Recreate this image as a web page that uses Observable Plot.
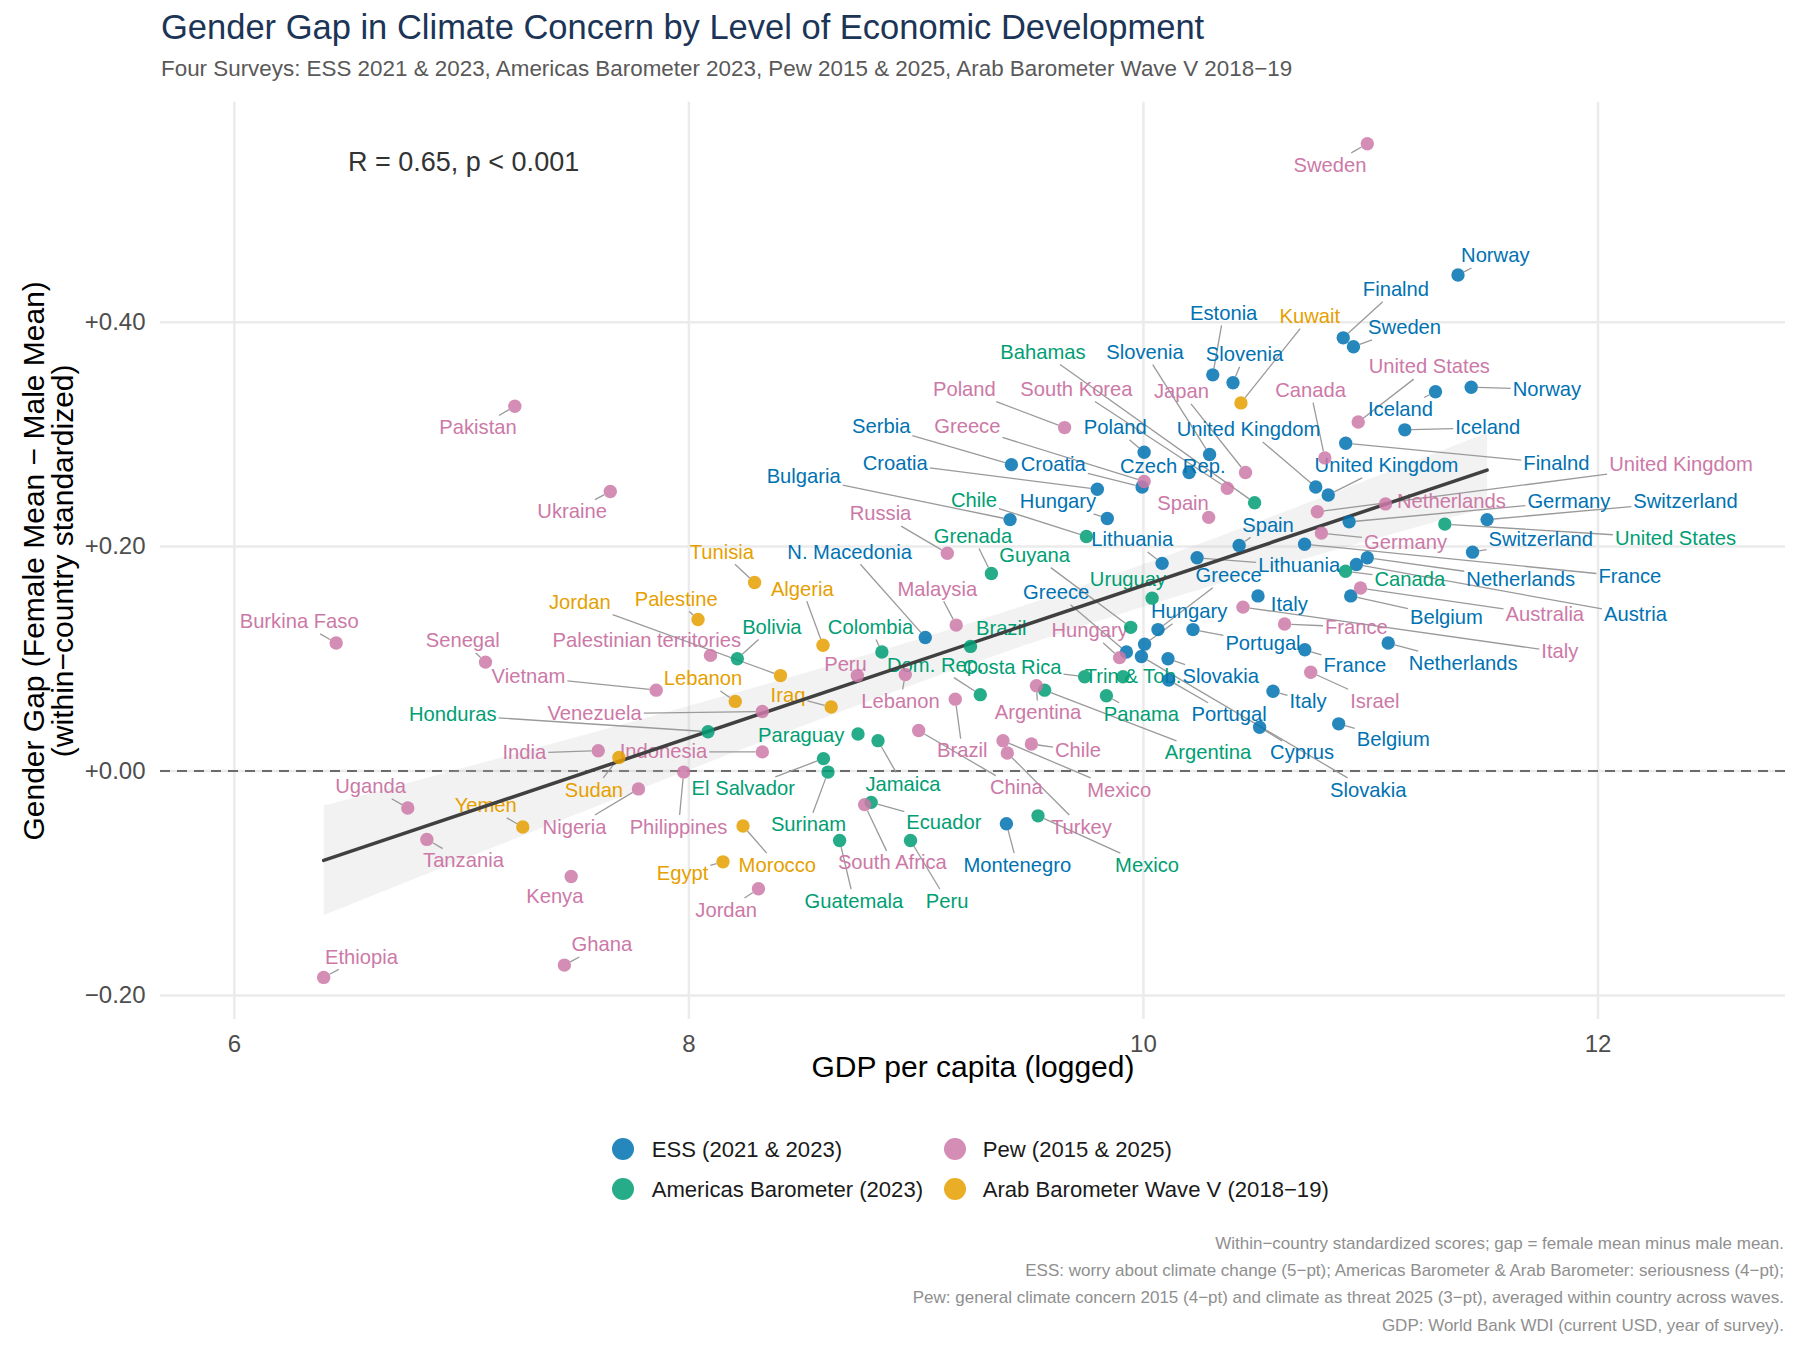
<!DOCTYPE html>
<html>
<head>
<meta charset="utf-8">
<script src="https://cdn.jsdelivr.net/npm/d3@7"></script>
<script src="https://cdn.jsdelivr.net/npm/@observablehq/plot@0.6"></script>
<style>
  html, body { margin: 0; padding: 0; background: #fff; }
  body { font-family: "Liberation Sans", Arial, Helvetica, sans-serif; }
  #page { position: relative; width: 1800px; height: 1350px; overflow: hidden; background: #fff; }
  #title { position: absolute; left: 161px; top: 10px; font-size: 34.5px; line-height: 1; color: #1c3557; white-space: nowrap; }
  #subtitle { position: absolute; left: 161px; top: 58px; font-size: 22.4px; line-height: 1; color: #595959; white-space: nowrap; }
  #chart { position: absolute; left: 0; top: 90px; }
  .leg-dot { position: absolute; width: 22px; height: 22px; border-radius: 50%; }
  .leg-text { position: absolute; font-size: 22.1px; line-height: 1; color: #1a1a1a; white-space: nowrap; }
  #caption { position: absolute; right: 16px; top: 1230px; font-size: 17px; line-height: 27.2px; color: #8f8f8f; text-align: right; white-space: nowrap; }
</style>
</head>
<body>
<div id="page">
  <div id="title"></div>
  <div id="subtitle"></div>
  <div id="chart"></div>
  <div id="legend"></div>
  <div id="caption"></div>
</div>
<script>
// ---------------- Text ----------------
const titleText = "Gender Gap in Climate Concern by Level of Economic Development";
const subtitleText = "Four Surveys: ESS 2021 & 2023, Americas Barometer 2023, Pew 2015 & 2025, Arab Barometer Wave V 2018−19";
const xTitle = "GDP per capita (logged)";
const yTitle = "Gender Gap (Female Mean − Male Mean)\n(within−country standardized)";
const statText = "R = 0.65, p < 0.001";
const statAt = [6.5, 0.542];
const captionLines = [
  "Within−country standardized scores; gap = female mean minus male mean.",
  "ESS: worry about climate change (5−pt); Americas Barometer & Arab Barometer: seriousness (4−pt);",
  "Pew: general climate concern 2015 (4−pt) and climate as threat 2025 (3−pt), averaged within country across waves.",
  "GDP: World Bank WDI (current USD, year of survey)."
];

// ---------------- Categories ----------------
const surveys = ["ESS (2021 & 2023)", "Americas Barometer (2023)", "Pew (2015 & 2025)", "Arab Barometer Wave V (2018−19)"];
const surveyColors = ["#0072B2", "#009E73", "#CC79A7", "#E69F00"];

// ---------------- Ticks ----------------
const xTicks = [6, 8, 10, 12];
const xTickLabels = ["6", "8", "10", "12"];
const yTicks = [-0.2, 0, 0.2, 0.4];
const yTickLabels = ["−0.20", "+0.00", "+0.20", "+0.40"];

// ---------------- ESS ----------------
const essNames = ["Norway","Norway","Finalnd","Finalnd","Sweden","Estonia","Slovenia","Slovenia","Iceland","Iceland","Poland","Czech Rep.","Serbia","Croatia","Croatia","Bulgaria","Hungary","Hungary","Lithuania","Lithuania","Spain","United Kingdom","United Kingdom","Germany","Switzerland","Switzerland","France","France","Netherlands","Netherlands","Austria","Belgium","Belgium","Italy","Italy","Greece","Greece","Portugal","Portugal","Slovakia","Slovakia","Cyprus","N. Macedonia","Montenegro"];
const essGdp = [11.384,11.442,10.879,10.890,10.924,10.305,10.291,10.394,11.285,11.150,10.003,10.201,9.419,9.994,9.797,9.413,9.841,10.005,10.082,10.236,10.421,10.758,10.813,10.905,11.512,11.448,10.709,10.710,10.985,11.077,10.937,10.912,10.859,10.504,10.570,9.925,10.064,10.218,10.111,10.108,9.991,10.511,9.040,9.397];
const essGap = [0.442,0.342,0.386,0.292,0.378,0.353,0.282,0.346,0.338,0.304,0.284,0.266,0.273,0.253,0.251,0.224,0.225,0.113,0.185,0.190,0.201,0.253,0.246,0.222,0.224,0.195,0.202,0.108,0.190,0.114,0.184,0.156,0.042,0.156,0.071,0.106,0.126,0.126,0.081,0.100,0.102,0.039,0.119,-0.047];
const essLabelX = [11.548,11.775,11.111,11.817,11.149,10.353,10.007,10.445,11.131,11.515,9.876,10.129,8.846,9.603,8.908,8.505,9.624,10.201,9.951,10.685,10.548,10.462,11.069,11.872,12.385,11.748,12.140,10.930,11.660,11.407,12.165,11.333,11.099,10.642,10.724,9.616,10.375,10.526,10.377,10.340,10.989,10.698,8.707,9.445];
const essLabelY = [0.459,0.340,0.429,0.274,0.395,0.408,0.373,0.371,0.322,0.306,0.306,0.271,0.307,0.273,0.274,0.262,0.240,0.142,0.206,0.183,0.219,0.304,0.272,0.240,0.240,0.206,0.173,0.094,0.171,0.096,0.139,0.137,0.028,0.148,0.062,0.159,0.174,0.114,0.050,0.084,-0.017,0.016,0.195,-0.084];

// ---------------- Americas Barometer ----------------
const ambNames = ["Bahamas","Chile","Grenada","Guyana","Uruguay","Bolivia","Colombia","Brazil","Dom. Rep.","Costa Rica","Trin & Tob.","Panama","Argentina","Honduras","Paraguay","Jamaica","El Salvador","Surinam","Ecuador","Guatemala","Peru","Mexico","United States","Canada"];
const ambGdp = [10.489,9.749,9.331,9.944,10.038,8.213,8.849,9.239,9.282,9.741,9.910,9.837,9.565,8.084,8.744,8.832,8.592,8.612,8.802,8.663,8.975,9.536,11.326,10.889];
const ambGap = [0.239,0.209,0.176,0.128,0.154,0.100,0.106,0.111,0.068,0.084,0.084,0.067,0.072,0.035,0.033,0.027,0.011,-0.001,-0.028,-0.062,-0.062,-0.040,0.220,0.178];
const ambLabelX = [9.558,9.254,9.250,9.521,9.932,8.365,8.799,9.374,9.084,9.422,9.954,9.991,10.284,6.961,8.494,8.942,8.239,8.526,9.122,8.726,9.136,10.016,12.341,11.172];
const ambLabelY = [0.373,0.241,0.209,0.192,0.171,0.128,0.128,0.127,0.094,0.092,0.084,0.050,0.016,0.050,0.032,-0.012,-0.016,-0.048,-0.046,-0.116,-0.116,-0.084,0.207,0.171];

// ---------------- Pew ----------------
const pewNames = ["Sweden","Poland","South Korea","Greece","Japan","Spain","Canada","United States","United Kingdom","Netherlands","Germany","France","Australia","Italy","Israel","Russia","Malaysia","Hungary","Peru","Lebanon","Brazil","Argentina","Chile","Mexico","Turkey","China","South Africa","Pakistan","Ukraine","Burkina Faso","Senegal","Vietnam","Palestinian territories","Venezuela","India","Indonesia","Philippines","Nigeria","Uganda","Tanzania","Kenya","Ghana","Ethiopia","Jordan"];
const pewGdp = [10.985,9.653,10.369,10.003,10.449,10.287,10.798,10.945,10.765,11.065,10.783,10.621,10.955,10.438,10.736,9.137,9.176,9.895,8.741,8.952,9.172,9.529,9.507,9.382,9.401,9.011,8.773,7.234,7.654,6.448,7.105,7.856,8.095,8.323,7.601,8.323,7.977,7.778,6.763,6.847,7.482,7.452,6.393,8.306];
const pewGap = [0.559,0.306,0.252,0.258,0.266,0.226,0.279,0.311,0.231,0.238,0.212,0.131,0.163,0.146,0.088,0.194,0.130,0.101,0.085,0.086,0.064,0.076,0.024,0.027,0.016,0.036,-0.030,0.325,0.249,0.114,0.097,0.072,0.103,0.053,0.018,0.017,-0.001,-0.016,-0.033,-0.061,-0.094,-0.173,-0.184,-0.105];
const pewLabelX = [10.821,9.212,9.705,9.225,10.167,10.174,10.735,11.258,12.365,11.355,11.153,10.937,11.766,11.832,11.018,8.843,9.093,9.763,8.689,8.931,9.203,9.536,9.712,9.893,9.727,9.441,8.895,7.072,7.486,6.285,7.005,7.294,7.815,7.585,7.276,7.888,7.954,7.497,6.599,7.008,7.410,7.617,6.559,8.164];
const pewLabelY = [0.540,0.340,0.340,0.307,0.338,0.238,0.339,0.360,0.273,0.240,0.204,0.128,0.139,0.106,0.062,0.229,0.162,0.125,0.095,0.062,0.018,0.052,0.018,-0.017,-0.050,-0.015,-0.082,0.306,0.231,0.133,0.116,0.084,0.116,0.051,0.016,0.017,-0.050,-0.050,-0.014,-0.080,-0.112,-0.155,-0.166,-0.124];

// ---------------- Arab Barometer ----------------
const arabNames = ["Kuwait","Tunisia","Jordan","Palestine","Algeria","Lebanon","Iraq","Sudan","Yemen","Egypt","Morocco"];
const arabGdp = [10.429,8.289,8.403,8.040,8.590,8.204,8.626,7.692,7.269,8.150,8.238];
const arabGap = [0.328,0.168,0.085,0.135,0.112,0.062,0.057,0.012,-0.050,-0.081,-0.049];
const arabLabelX = [10.732,8.145,7.520,7.944,8.499,8.062,8.436,7.582,7.106,7.972,8.389];
const arabLabelY = [0.405,0.195,0.150,0.153,0.162,0.082,0.067,-0.017,-0.031,-0.091,-0.084];

// ---------------- Build table ----------------
function rowsFrom(survey, names, gdp, gap, lx, ly) {
  return names.map((n, i) => ({survey, name: n, x: gdp[i], y: gap[i], lx: lx[i], ly: ly[i]}));
}
const rows = [
  ...rowsFrom(surveys[0], essNames, essGdp, essGap, essLabelX, essLabelY),
  ...rowsFrom(surveys[1], ambNames, ambGdp, ambGap, ambLabelX, ambLabelY),
  ...rowsFrom(surveys[2], pewNames, pewGdp, pewGap, pewLabelX, pewLabelY),
  ...rowsFrom(surveys[3], arabNames, arabGdp, arabGap, arabLabelX, arabLabelY)
];

// ---------------- Layout ----------------
const W = 1800, H = 1020;
const mL = 160, mR = 15, mT = 11.7, mB = 91;
const xDomain = [5.675, 12.825];
const yDomain = [-0.2215, 0.596];
const fontFamily = '"Liberation Sans", Arial, Helvetica, sans-serif';
const labelSize = 20.2;
const dotR = 6.7;

const sx = Plot.scale({x: {domain: xDomain, range: [mL, W - mR]}});
const sy = Plot.scale({y: {domain: yDomain, range: [H - mB, mT]}});

// leader segments: from the point edge to the edge of the label box
const ctx = document.createElement("canvas").getContext("2d");
ctx.font = `${labelSize}px ${fontFamily}`;
const segs = [];
for (const d of rows) {
  const px = sx.apply(d.x), py = sy.apply(d.y);
  const cx = sx.apply(d.lx), cy = sy.apply(d.ly);
  const hw = ctx.measureText(d.name).width / 2 + 2, hh = labelSize * 0.6;
  const dx = px - cx, dy = py - cy;
  if (Math.abs(dx) <= hw && Math.abs(dy) <= hh) continue;
  const t = Math.min(dx ? hw / Math.abs(dx) : Infinity, dy ? hh / Math.abs(dy) : Infinity);
  const ex = cx + dx * t, ey = cy + dy * t;
  const len = Math.hypot(px - ex, py - ey);
  if (len < dotR + 5) continue;
  const spx = px + (ex - px) * dotR / len, spy = py + (ey - py) * dotR / len;
  segs.push({x1: sx.invert(spx), y1: sy.invert(spy), x2: sx.invert(ex), y2: sy.invert(ey)});
}

const chart = Plot.plot({
  width: W, height: H,
  marginLeft: mL, marginRight: mR, marginTop: mT, marginBottom: mB,
  style: {fontFamily, background: "white", overflow: "visible"},
  x: {domain: xDomain, label: null},
  y: {domain: yDomain, label: null},
  color: {domain: surveys, range: surveyColors},
  marks: [
    Plot.gridX(xTicks, {stroke: "#ebebeb", strokeOpacity: 1, strokeWidth: 2.5}),
    Plot.gridY(yTicks, {stroke: "#ebebeb", strokeOpacity: 1, strokeWidth: 2.5}),
    Plot.axisX(xTicks, {tickSize: 0, tickPadding: 15, fontSize: 24, fill: "#4d4d4d", label: null,
      tickFormat: (d) => xTickLabels[xTicks.indexOf(d)]}),
    Plot.axisY(yTicks, {tickSize: 0, tickPadding: 15, fontSize: 24, fill: "#4d4d4d", label: null,
      tickFormat: (d) => yTickLabels[yTicks.indexOf(d)]}),
    Plot.ruleY([0], {stroke: "#6b6b6b", strokeWidth: 2, strokeDasharray: "10,7"}),
    Plot.linearRegressionY(rows, {x: "x", y: "y", stroke: "none", fill: "#bdbdbd", fillOpacity: 0.2, ci: 0.95}),
    Plot.link(segs, {x1: "x1", y1: "y1", x2: "x2", y2: "y2", stroke: "#9a9a9a", strokeWidth: 1.3}),
    Plot.text(rows, {x: "lx", y: "ly", text: "name", fill: "survey", fontSize: labelSize}),
    Plot.linearRegressionY(rows, {x: "x", y: "y", stroke: "#404040", strokeWidth: 3.5, ci: 0}),
    Plot.dot(rows, {x: "x", y: "y", fill: "survey", fillOpacity: 0.85, r: dotR}),
    Plot.text([statText], {x: () => statAt[0], y: () => statAt[1], text: (d) => d, textAnchor: "start", fontSize: 27, fill: "#333333"}),
    Plot.text([xTitle], {frameAnchor: "bottom", dy: 57.7, text: (d) => d, fontSize: 30, fill: "#000000"}),
    Plot.text([yTitle], {frameAnchor: "left", dx: -111, rotate: -90, textAnchor: "middle", text: (d) => d, fontSize: 30, lineHeight: 0.963, fill: "#000000"})
  ]
});
document.getElementById("chart").appendChild(chart);

// ---------------- Header / legend / caption ----------------
document.getElementById("title").textContent = titleText;
document.getElementById("subtitle").textContent = subtitleText;
document.getElementById("caption").innerHTML = captionLines.map((s) => `<div>${s.replace(/&/g, "&amp;")}</div>`).join("");

const legend = document.getElementById("legend");
const legCols = [{dot: 623.3, text: 651.7}, {dot: 955, text: 982.7}];
const legRows = [1149.3, 1189.3];
surveys.forEach((s, i) => {
  const col = legCols[Math.floor(i / 2)], rowY = legRows[i % 2];
  const dot = document.createElement("div");
  dot.className = "leg-dot";
  dot.style.left = (col.dot - 11) + "px";
  dot.style.top = (rowY - 11) + "px";
  dot.style.background = surveyColors[i];
  dot.style.opacity = 0.85;
  legend.appendChild(dot);
  const t = document.createElement("div");
  t.className = "leg-text";
  t.style.left = col.text + "px";
  t.style.top = (rowY - 10.7) + "px";
  t.textContent = s;
  legend.appendChild(t);
});
</script>
</body>
</html>
